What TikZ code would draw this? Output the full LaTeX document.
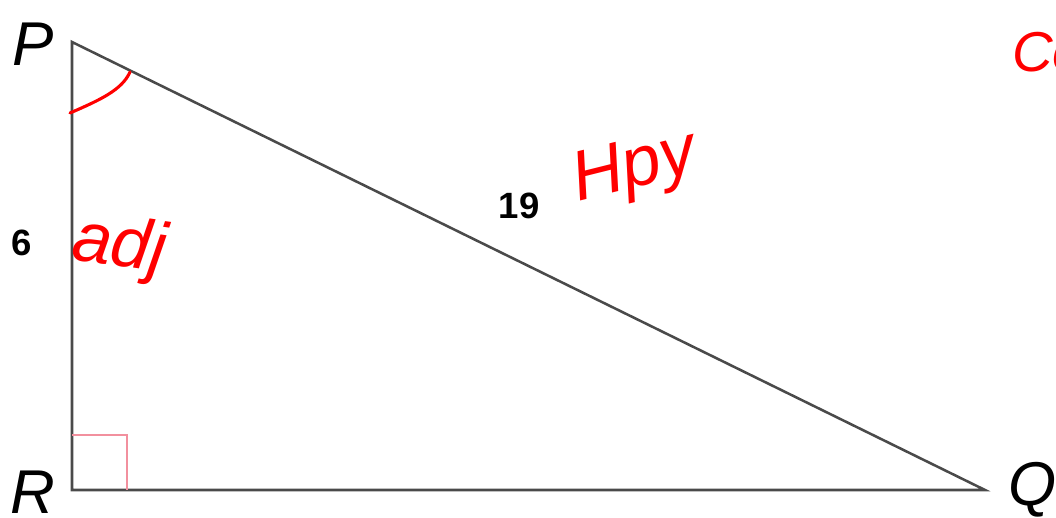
\documentclass[tikz,border=0pt]{standalone}
\usepackage{fontspec}
\setmainfont{Liberation Sans}
\usetikzlibrary{calc}
\definecolor{edgegray}{HTML}{4A4A4A}
\definecolor{inkred}{HTML}{FF0000}
\definecolor{markpink}{HTML}{F2909E}
\tikzset{
  side/.style={draw=edgegray, line width=1.8pt, line join=miter},
  vertexlbl/.style={font=\fontsize{44}{44}\selectfont\itshape, text=black, inner sep=0pt},
  lenlbl/.style={font=\fontsize{26}{26}\selectfont\bfseries, text=black, inner sep=0pt},
  rightmark/.style={draw=markpink, line width=1.4pt},
  ink/.style={font=\fontsize{50}{50}\selectfont\itshape, text=inkred, inner sep=0pt},
  inkline/.style={draw=inkred, line width=2.2pt, line cap=round}
}
\begin{document}
\begin{tikzpicture}[x=0.025cm,y=0.025cm]
  \useasboundingbox (0,0) rectangle (1056,518);

  % triangle corners
  \coordinate (P) at (72,476);
  \coordinate (R) at (72,28);
  \coordinate (Q) at (985,28);
  \draw[side] (P) -- (R) -- (Q) -- cycle;
  \draw[rightmark] ($(R)+(0,55)$) -- ++(55,0) -- ++(0,-55);

  \node[vertexlbl] (lp) at (33,474) {P};
  \node[vertexlbl] (lr) at (33,26) {R};
  \node[vertexlbl] (lq) at (1033,28) {Q};
  \node[lenlbl] (l6) at (22,275) {6};
  \node[lenlbl] (l19) at (519,312) {19};

  % red notes
  \draw[inkline] (70,405) .. controls (100,418) and (122,428) .. (130,446);
  \node[ink, rotate=-8] (adj) at (119,270) {adj};
  \node[ink, rotate=14] (hyp) at (635,348) {Hpy};
  \node[ink, anchor=west, font=\fontsize{40}{40}\selectfont\itshape] (co) at (1012,466) {Co};
\end{tikzpicture}
\end{document}
